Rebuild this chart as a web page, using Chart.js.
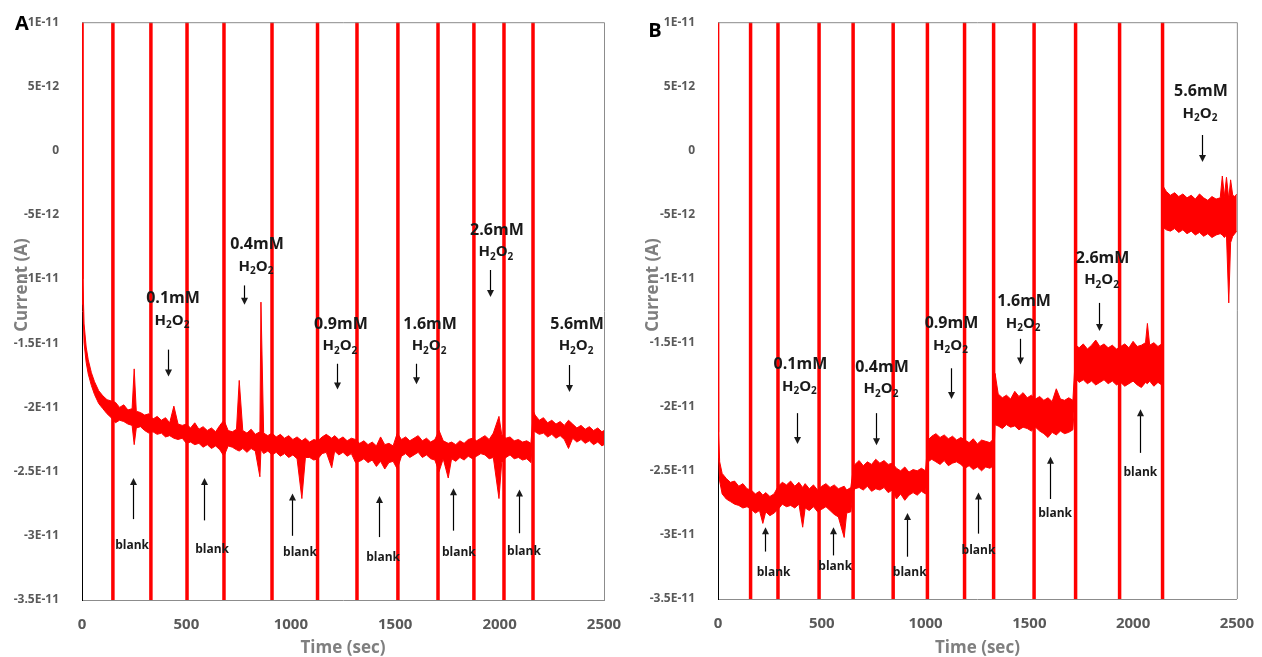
<!DOCTYPE html>
<html>
<head>
<meta charset="utf-8">
<script src="https://cdn.jsdelivr.net/npm/chart.js@4.4.1/dist/chart.umd.min.js"></script>
<style>
  html, body { margin: 0; padding: 0; background: #fff; }
  .panel { position: absolute; top: 0; width: 631px; height: 657px; }
  #panelA { left: 0; }
  #panelB { left: 631px; }
</style>
</head>
<body>
<div class="panel" id="panelA"><canvas id="chartA"></canvas></div>
<div class="panel" id="panelB"><canvas id="chartB"></canvas></div>
<script>
const RED = "#ff0000";
const TICK_COLOR = "#595959";
const TITLE_COLOR = "#7f7f7f";
const FONT = "'Open Sans', sans-serif";

// current values are in pA (1E-12 A); the tick labels show them in A
const yTickValues = [10, 5, 0, -5, -10, -15, -20, -25, -30, -35];
const yTickLabels = ["1E-11", "5E-12", "0", "-5E-12", "-1E-11", "-1.5E-11", "-2E-11", "-2.5E-11", "-3E-11", "-3.5E-11"];
const xTickLabels = ["0", "500", "1000", "1500", "2000", "2500"];

// ---- panel A: time (s), upper and lower edge of the noisy trace (pA)
const timeA = [
  0, 4, 10, 20, 30, 45, 60, 80, 100, 120,
  140, 160, 180, 200, 220, 240, 250, 260, 280, 300,
  320, 340, 360, 380, 400, 420, 440, 460, 480, 500,
  520, 540, 560, 580, 600, 620, 640, 660, 680, 700,
  720, 740, 753, 770, 790, 810, 830, 852, 857, 870,
  890, 910, 930, 950, 970, 990, 1010, 1030, 1053, 1070,
  1090, 1110, 1130, 1150, 1170, 1196, 1210, 1230, 1250, 1270,
  1290, 1310, 1330, 1350, 1370, 1390, 1410, 1430, 1450, 1470,
  1490, 1510, 1530, 1550, 1570, 1590, 1610, 1630, 1650, 1670,
  1690, 1710, 1730, 1754, 1770, 1790, 1810, 1830, 1850, 1870,
  1890, 1910, 1930, 1950, 1970, 1997, 2010, 2030, 2050, 2070,
  2090, 2110, 2130, 2150, 2162, 2170, 2190, 2210, 2230, 2250,
  2270, 2290, 2310, 2330, 2350, 2370, 2390, 2410, 2430, 2450,
  2470, 2490, 2500
];
const upperA = [
  40, -10, -13.5, -15.3, -16.3, -17.3, -18.0, -18.7, -19.1, -19.4,
  -19.5, -19.6, -20.0, -19.8, -20.2, -20.1, -17.0, -20.3, -20.4, -20.6,
  -20.5, -20.9, -20.7, -21.0, -20.8, -21.2, -19.9, -21.3, -21.4, -21.3,
  -21.6, -21.2, -21.7, -21.5, -21.8, -21.6, -21.9, -21.4, -21.0, -21.8,
  -21.9, -21.7, -17.9, -21.8, -22.0, -21.7, -22.1, -21.9, -11.8, -22.0,
  -22.2, -22.0, -22.3, -22.1, -22.4, -22.2, -22.5, -22.3, -22.6, -22.4,
  -22.7, -22.5, -22.6, -22.3, -22.1, -22.4, -22.2, -22.5, -22.3, -22.6,
  -22.4, -22.5, -22.8, -22.6, -22.9, -22.7, -23.0, -22.3, -22.9, -22.8,
  -23.0, -22.0, -22.5, -22.3, -22.6, -22.4, -22.2, -22.6, -22.4, -22.7,
  -22.5, -21.8, -22.6, -22.8, -22.7, -22.9, -22.6, -22.8, -22.5, -22.4,
  -22.6, -22.4, -22.2, -22.5, -22.0, -20.7, -22.1, -22.4, -22.3, -22.6,
  -22.5, -22.7, -22.6, -22.8, -20.3, -20.6, -21.0, -20.8, -21.2, -21.0,
  -21.3, -21.1, -21.4, -21.0, -21.3, -21.6, -21.4, -21.7, -21.5, -21.8,
  -21.6, -21.9, -21.8
];
const lowerA = [
  40, -12, -15.0, -16.5, -17.4, -18.3, -19.0, -19.7, -20.1, -20.5,
  -20.8, -21.2, -21.0, -21.1, -21.3, -21.4, -22.9, -21.6, -21.5, -21.8,
  -22.0, -21.9, -22.1, -22.0, -22.3, -22.2, -22.4, -22.5, -22.4, -22.8,
  -22.7, -22.9, -22.8, -23.1, -22.9, -23.2, -23.0, -23.3, -23.8, -23.0,
  -23.1, -23.3, -23.4, -23.2, -23.5, -23.2, -23.4, -25.4, -23.3, -23.6,
  -23.4, -23.7, -23.5, -23.8, -23.6, -23.9, -23.7, -24.0, -27.1, -23.9,
  -23.9, -24.1, -24.0, -23.6, -23.5, -24.7, -23.4, -23.7, -23.5, -23.8,
  -23.6, -24.3, -24.2, -24.0, -24.3, -24.1, -24.6, -24.2, -24.8, -24.3,
  -24.2, -24.8, -23.8, -23.6, -23.9, -23.7, -23.5, -23.9, -23.7, -24.0,
  -24.1, -25.0, -24.0, -25.5, -24.0, -24.2, -23.9, -24.1, -23.8, -24.0,
  -23.8, -23.6, -23.7, -24.0, -23.9, -27.1, -24.3, -23.9, -23.7, -24.0,
  -23.9, -24.1, -24.0, -24.3, -21.8, -21.9, -22.1, -22.0, -22.3, -22.1,
  -22.4, -22.2, -22.5, -23.2, -22.4, -22.7, -22.5, -22.8, -22.6, -22.9,
  -22.7, -23.0, -22.9
];
// injection spikes that run off the scale (s)
const spikesA = [148, 330, 503, 680, 910, 1128, 1317, 1513, 1705, 1877, 2021, 2160];

// ---- panel B
const timeB = [
  0, 3, 8, 20, 40, 60, 80, 100, 120, 140,
  160, 180, 200, 216, 230, 250, 270, 290, 310, 330,
  350, 370, 390, 408, 420, 440, 460, 480, 500, 520,
  540, 560, 580, 608, 620, 640, 652, 660, 680, 700,
  720, 740, 760, 780, 800, 820, 840, 860, 880, 900,
  920, 940, 960, 980, 1000, 1012, 1030, 1050, 1070, 1090,
  1110, 1130, 1150, 1170, 1190, 1210, 1230, 1250, 1270, 1290,
  1310, 1328, 1335, 1350, 1370, 1390, 1410, 1430, 1450, 1470,
  1490, 1510, 1530, 1550, 1570, 1590, 1610, 1630, 1650, 1670,
  1690, 1710, 1725, 1740, 1760, 1780, 1800, 1820, 1840, 1860,
  1880, 1900, 1920, 1940, 1960, 1980, 2000, 2020, 2040, 2060,
  2069, 2080, 2100, 2120, 2138, 2145, 2160, 2180, 2200, 2220,
  2240, 2260, 2280, 2300, 2320, 2340, 2360, 2380, 2400, 2420,
  2430, 2440, 2450, 2461, 2470, 2480, 2490, 2500
];
const upperB = [
  40, -22.0, -24.3, -25.2, -25.6, -25.9, -25.8, -26.2, -26.0, -26.4,
  -26.5, -26.8, -26.6, -26.9, -26.7, -27.0, -26.8, -26.2, -25.9, -26.1,
  -25.8, -26.2, -25.9, -26.3, -26.0, -26.4, -26.1, -26.5, -26.2, -26.0,
  -26.3, -26.1, -26.4, -26.2, -26.5, -26.3, -24.8, -24.5, -24.2, -24.6,
  -24.3, -24.5, -24.1, -24.4, -24.2, -24.5, -24.4, -24.8, -25.0, -24.7,
  -25.1, -24.9, -25.0, -24.8, -25.0, -22.6, -22.3, -22.1, -22.4, -22.2,
  -22.5, -22.3, -22.6, -22.4, -22.6, -22.8, -22.5, -22.9, -22.6, -22.7,
  -22.8, -22.5, -17.4, -19.0, -19.3, -19.1, -19.4, -18.8, -19.2, -18.9,
  -19.3, -19.1, -19.4, -19.2, -19.5, -19.3, -19.6, -18.6, -19.4, -19.5,
  -19.3, -19.5, -15.2, -15.4, -15.1, -15.5, -15.2, -14.8, -15.3, -15.1,
  -15.4, -15.2, -15.5, -15.3, -15.1, -15.4, -14.9, -15.3, -15.2, -15.0,
  -13.5, -15.2, -15.0, -15.3, -15.1, -2.8, -3.2, -3.5, -3.3, -3.6,
  -3.4, -3.7, -3.5, -3.8, -3.4, -3.7, -3.9, -3.6, -3.8, -3.7,
  -2.0, -3.6, -2.1, -3.8, -2.3, -3.5, -3.6, -3.4
];
const lowerB = [
  40, -24.0, -25.8, -26.8, -27.2, -27.4, -27.6, -27.7, -27.9, -27.8,
  -28.0, -28.3, -28.1, -29.1, -28.2, -28.5, -28.3, -28.0, -27.6, -27.8,
  -27.7, -27.9, -27.6, -29.4, -27.9, -28.1, -27.8, -28.2, -28.0, -27.8,
  -28.1, -28.4, -28.6, -30.2, -28.3, -28.2, -26.6, -26.4, -26.3, -26.5,
  -26.2, -26.6, -26.4, -26.5, -26.3, -26.7, -26.5, -27.2, -26.8, -27.3,
  -26.9, -26.7, -26.9, -26.6, -26.8, -24.3, -24.1, -24.3, -24.5, -24.2,
  -24.6, -24.4, -24.3, -24.5, -24.8, -24.6, -24.9, -24.7, -25.0, -24.7,
  -24.8, -24.6, -21.4, -21.5, -21.7, -21.4, -21.6, -21.5, -21.8, -21.6,
  -21.7, -21.9, -21.6, -21.9, -22.1, -22.4, -22.0, -22.2, -21.9, -22.1,
  -22.0, -21.8, -17.8, -18.1, -17.9, -18.2, -18.0, -18.3, -18.1, -17.9,
  -18.2, -18.0, -18.3, -18.1, -18.4, -18.2, -18.0, -18.3, -18.5, -18.1,
  -18.2, -18.0, -18.4, -18.1, -18.3, -6.0, -6.2, -6.3, -6.1, -6.4,
  -6.2, -6.5, -6.3, -6.6, -6.4, -6.7, -6.5, -6.8, -6.6, -6.5,
  -6.6, -6.8, -6.6, -11.9, -7.2, -6.7, -6.5, -6.3
];
const spikesB = [157, 289, 487, 651, 844, 1009, 1188, 1328, 1523, 1723, 1935, 2142];

// ---- annotations, in data coordinates (time s, pA)
const concA = [
  { text: "0.1mM", t: 436, v: -11.5, at: 412, a0: -15.5, a1: -17.6 },
  { text: "0.4mM", t: 838, v: -7.3, at: 776, a0: -10.5, a1: -12.0 },
  { text: "0.9mM", t: 1240, v: -13.5, at: 1221, a0: -16.6, a1: -18.6 },
  { text: "1.6mM", t: 1667, v: -13.5, at: 1600, a0: -16.6, a1: -18.2 },
  { text: "2.6mM", t: 1987, v: -6.2, at: 1954, a0: -9.3, a1: -11.4 },
  { text: "5.6mM", t: 2371, v: -13.5, at: 2332, a0: -16.7, a1: -18.8 },
];
const blanksA = [
  { at: 244, a0: -28.7, a1: -25.5, t: 240, v: -30.8 },
  { at: 584, a0: -28.8, a1: -25.5, t: 623, v: -31.1 },
  { at: 1006, a0: -30.0, a1: -26.7, t: 1044, v: -31.3 },
  { at: 1422, a0: -30.1, a1: -26.9, t: 1442, v: -31.7 },
  { at: 1777, a0: -29.6, a1: -26.3, t: 1805, v: -31.3 },
  { at: 2093, a0: -29.8, a1: -26.4, t: 2117, v: -31.2 },
];
const concB = [
  { text: "0.1mM", t: 397, v: -16.7, at: 383, a0: -20.5, a1: -22.9 },
  { text: "0.4mM", t: 790, v: -16.9, at: 761, a0: -20.5, a1: -23.0 },
  { text: "0.9mM", t: 1125, v: -13.5, at: 1125, a0: -17.0, a1: -19.4 },
  { text: "1.6mM", t: 1475, v: -11.8, at: 1456, a0: -14.7, a1: -16.7 },
  { text: "2.6mM", t: 1853, v: -8.4, at: 1834, a0: -11.9, a1: -14.1 },
  { text: "5.6mM", t: 2327, v: 4.6, at: 2332, a0: 1.2, a1: -0.9 },
];
const blanksB = [
  { at: 225, a0: -31.3, a1: -29.4, t: 268, v: -32.9 },
  { at: 556, a0: -31.6, a1: -29.4, t: 565, v: -32.5 },
  { at: 910, a0: -31.7, a1: -28.3, t: 924, v: -32.9 },
  { at: 1255, a0: -29.9, a1: -26.7, t: 1255, v: -31.2 },
  { at: 1600, a0: -27.2, a1: -23.9, t: 1624, v: -28.3 },
  { at: 2035, a0: -23.6, a1: -20.2, t: 2035, v: -25.1 },
];

function drawArrow(ctx, x, y0, y1) {
  const dir = y1 > y0 ? 1 : -1;
  ctx.beginPath();
  ctx.moveTo(x, y0);
  ctx.lineTo(x, y1 - dir * 6);
  ctx.stroke();
  ctx.beginPath();
  ctx.moveTo(x, y1);
  ctx.lineTo(x - 3.5, y1 - dir * 7);
  ctx.lineTo(x + 3.5, y1 - dir * 7);
  ctx.closePath();
  ctx.fill();
}

function drawH2O2(ctx, cx, cy) {
  const big = "bold 15px " + FONT;
  const small = "bold 10px " + FONT;
  const parts = [["H", big, 0], ["2", small, 5], ["O", big, 0], ["2", small, 5]];
  let total = 0;
  parts.forEach((p) => { ctx.font = p[1]; total += ctx.measureText(p[0]).width; });
  let x = cx - total / 2;
  ctx.textAlign = "left";
  parts.forEach((p) => {
    ctx.font = p[1];
    ctx.fillText(p[0], x, cy + p[2]);
    x += ctx.measureText(p[0]).width;
  });
}

function annotationPlugin(letter, geom, conc, blanks) {
  return {
    id: "notes" + letter,
    afterDatasetsDraw(chart) {
      const { ctx, chartArea, scales } = chart;
      const xs = scales.x, ys = scales.y;
      ctx.save();
      // top and right frame lines
      ctx.strokeStyle = "#8c8c8c";
      ctx.lineWidth = 1;
      ctx.beginPath();
      ctx.moveTo(chartArea.left, chartArea.top + 0.5);
      ctx.lineTo(chartArea.right + 0.5, chartArea.top + 0.5);
      ctx.lineTo(chartArea.right + 0.5, chartArea.bottom);
      ctx.stroke();

      ctx.fillStyle = "#1a1a1a";
      ctx.strokeStyle = "#000";
      ctx.lineWidth = 1.2;
      ctx.textBaseline = "middle";
      conc.forEach((c) => {
        const x = xs.getPixelForValue(c.t);
        const y = ys.getPixelForValue(c.v);
        ctx.font = "bold 16px " + FONT;
        ctx.textAlign = "center";
        ctx.fillText(c.text, x, y);
        drawH2O2(ctx, x - 1, y + 22);
        drawArrow(ctx, Math.round(xs.getPixelForValue(c.at)) + 0.5,
          ys.getPixelForValue(c.a0), ys.getPixelForValue(c.a1));
      });
      blanks.forEach((b) => {
        drawArrow(ctx, Math.round(xs.getPixelForValue(b.at)) + 0.5,
          ys.getPixelForValue(b.a0), ys.getPixelForValue(b.a1));
        ctx.font = "bold 12px " + FONT;
        ctx.textAlign = "center";
        ctx.fillText("blank", xs.getPixelForValue(b.t), ys.getPixelForValue(b.v));
      });

      // y-axis title, placed a little above the middle as in the figure
      ctx.save();
      ctx.translate(geom.yTitle[0], geom.yTitle[1]);
      ctx.rotate(-Math.PI / 2);
      ctx.fillStyle = TITLE_COLOR;
      ctx.font = "bold 17px " + FONT;
      ctx.textAlign = "center";
      ctx.fillText("Current (A)", 0, 0);
      ctx.restore();

      ctx.fillStyle = "#000";
      ctx.font = "bold 20px " + FONT;
      ctx.textAlign = "center";
      ctx.fillText(letter, geom.letter[0], geom.letter[1]);
      ctx.restore();
    },
  };
}

function buildChart(id, time, upper, lower, spikes, conc, blanks, letter, geom) {
  const spikeData = [];
  spikes.forEach((t) => {
    spikeData.push({ x: t, y: -1000 }, { x: t, y: 1000 }, { x: t, y: null });
  });
  return new Chart(document.getElementById(id), {
    type: "line",
    data: {
      datasets: [
        {
          data: time.map((t, i) => ({ x: t, y: upper[i] })),
          borderColor: RED,
          borderWidth: 1,
          pointRadius: 0,
          fill: false,
        },
        {
          data: time.map((t, i) => ({ x: t, y: lower[i] })),
          borderColor: RED,
          backgroundColor: RED,
          borderWidth: 1,
          pointRadius: 0,
          fill: "-1",
        },
        {
          data: spikeData,
          borderColor: RED,
          borderWidth: 3.5,
          pointRadius: 0,
          spanGaps: false,
          fill: false,
        },
      ],
    },
    options: {
      responsive: true,
      maintainAspectRatio: false,
      animation: false,
      devicePixelRatio: 1,
      layout: { padding: { left: 0, right: geom.right, top: geom.top, bottom: 0 } },
      plugins: { legend: { display: false }, tooltip: { enabled: false } },
      elements: { line: { tension: 0 } },
      scales: {
        x: {
          type: "linear",
          min: 0,
          max: 2500,
          afterFit: (s) => { s.height = geom.xHeight; },
          grid: { display: false },
          border: { color: "#8c8c8c", width: 1 },
          ticks: {
            stepSize: 500,
            padding: 8,
            color: TICK_COLOR,
            font: { family: FONT, size: 15, weight: "bold" },
            callback: (v) => xTickLabels[v / 500],
          },
          title: {
            display: true,
            text: "Time (sec)",
            color: TITLE_COLOR,
            padding: 0,
            font: { family: FONT, size: 17, weight: "bold", lineHeight: 1 },
          },
        },
        y: {
          min: -35,
          max: 10,
          afterFit: (s) => { s.width = geom.yWidth; },
          grid: { display: false },
          border: { color: "#000", width: 1 },
          ticks: {
            stepSize: 5,
            padding: 15,
            color: TICK_COLOR,
            font: { family: FONT, size: 12, weight: "bold" },
            callback: (v) => yTickLabels[yTickValues.indexOf(v)],
          },
          title: { display: false },
        },
      },
    },
    plugins: [annotationPlugin(letter, geom, conc, blanks)],
  });
}

buildChart("chartA", timeA, upperA, lowerA, spikesA, concA, blanksA, "A",
  { right: 27, top: 17, xHeight: 57, yWidth: 82, letter: [22, 24], yTitle: [22, 285] });
buildChart("chartB", timeB, upperB, lowerB, spikesB, concB, blanksB, "B",
  { right: 22, top: 20, xHeight: 58, yWidth: 87, letter: [24, 31], yTitle: [22, 285] });
</script>
</body>
</html>
